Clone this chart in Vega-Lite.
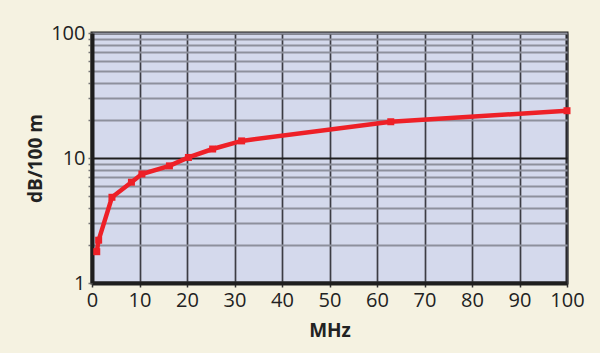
{
  "$schema": "https://vega.github.io/schema/vega-lite/v6.json",
  "width": 475,
  "height": 250,
  "autosize": {"type": "none"},
  "padding": {"left": 92, "top": 33, "right": 33, "bottom": 70},
  "background": "#F5F2E1",
  "config": {
    "view": {"fill": "#D4D9EC", "stroke": "#1e1e1e", "strokeWidth": 3},
    "font": "Open Sans"
  },
  "data": {
    "values": [
      {"MHz": 1.0, "dB": 1.78},
      {"MHz": 1.4, "dB": 2.2},
      {"MHz": 4.2, "dB": 4.85},
      {"MHz": 8.3, "dB": 6.4},
      {"MHz": 10.5, "dB": 7.45},
      {"MHz": 16.3, "dB": 8.65},
      {"MHz": 20.3, "dB": 10.1},
      {"MHz": 25.4, "dB": 11.8},
      {"MHz": 31.5, "dB": 13.7},
      {"MHz": 62.9, "dB": 19.5},
      {"MHz": 100, "dB": 23.9}
    ]
  },
  "encoding": {
    "x": {
      "field": "MHz",
      "type": "quantitative",
      "scale": {"domain": [0, 100], "nice": false},
      "axis": {
        "title": "MHz",
        "values": [0, 10, 20, 30, 40, 50, 60, 70, 80, 90, 100],
        "format": "d",
        "labelFont": "Open Sans",
        "labelFontSize": 20,
        "labelColor": "#222",
        "labelPadding": 3,
        "labelFlush": false,
        "tickSize": 4,
        "tickColor": "#333",
        "tickWidth": 1.5,
        "domainColor": "#1e1e1e",
        "domainWidth": 4,
        "grid": true,
        "gridColor": "#3c3c44",
        "gridWidth": 1.7,
        "titleFont": "Open Sans",
        "titleFontSize": 19,
        "titleFontWeight": "bold",
        "titleColor": "#222",
        "titlePadding": 11
      }
    },
    "y": {
      "field": "dB",
      "type": "quantitative",
      "scale": {"type": "log", "domain": [1, 100], "nice": false},
      "axis": {
        "title": "dB/100 m",
        "values": [1, 2, 3, 4, 5, 6, 7, 8, 9, 10, 20, 30, 40, 50, 60, 70, 80, 90, 100],
        "labelExpr": "datum.value == 1 || datum.value == 10 || datum.value == 100 ? datum.label : ''",
        "format": "d",
        "labelFont": "Open Sans",
        "labelFontSize": 20,
        "labelColor": "#222",
        "labelPadding": 3,
        "labelFlush": false,
        "tickSize": 4,
        "tickColor": "#777",
        "tickWidth": 1.5,
        "domainColor": "#1e1e1e",
        "domainWidth": 4,
        "grid": true,
        "gridColor": {"condition": {"test": "datum.value == 10", "value": "#1e1e1e"}, "value": "#8d909c"},
        "gridWidth": 2,
        "titleFont": "Open Sans",
        "titleFontSize": 19,
        "titleFontWeight": "bold",
        "titleColor": "#222",
        "titlePadding": 5
      }
    }
  },
  "layer": [
    {"mark": {"type": "line", "color": "#EE2027", "strokeWidth": 4.5}},
    {"mark": {"type": "point", "shape": "square", "filled": true, "color": "#EE2027", "opacity": 1, "size": 49}}
  ]
}
